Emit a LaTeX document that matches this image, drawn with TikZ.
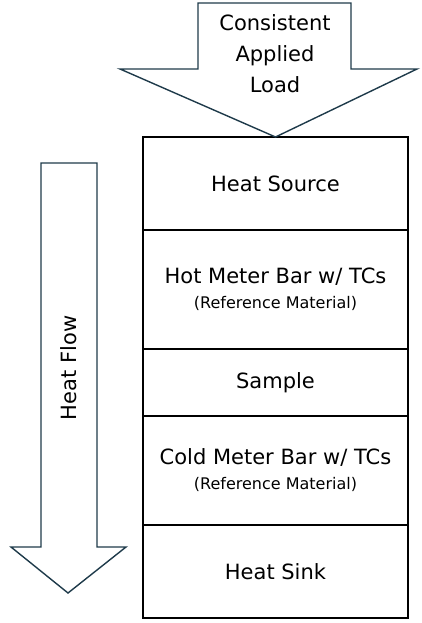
\documentclass[tikz,border=0pt]{standalone}
\usepackage{fontspec}
\setmainfont{DejaVu Sans}
\usetikzlibrary{positioning}

\definecolor{arrowline}{HTML}{1E3A4A}
\tikzset{layer/.style={draw,rectangle,line width=1.4pt,minimum width=265pt,outer sep=0pt,align=center,font=\fontsize{21}{25}\selectfont},}
\tikzset{bigarrow/.style={draw=arrowline,line width=1.4pt,line join=miter},}
\tikzset{arrowtext/.style={align=center,inner sep=0pt,font=\fontsize{21}{31}\selectfont},}
\newcommand{\refmat}{{\fontsize{16}{20}\selectfont (Reference Material)}}

\begin{document}
\begin{tikzpicture}[x=1pt,y=-1pt]
\useasboundingbox (0,0) rectangle (422,623);

%STACK
\node [layer,minimum height=93pt,anchor=north] (source) at (275.5,137) {Heat Source};
\node [layer,minimum height=119pt,below=0pt of source] (hotbar) {Hot Meter Bar w/ TCs\\\refmat};
\node [layer,minimum height=67pt,below=0pt of hotbar] (sample) {Sample};
\node [layer,minimum height=109pt,below=0pt of sample] (coldbar) {Cold Meter Bar w/ TCs\\\refmat};
\node [layer,minimum height=93pt,below=0pt of coldbar] (sink) {Heat Sink};

%LOAD ARROW
\draw[bigarrow] (198,3) -- (351,3) -- (351,69) -- (417,69) -- (source.north) -- (120,69) -- (198,69) -- cycle;
\node [arrowtext] (load) at (275,54) {Consistent\\Applied\\Load};

%HEAT FLOW ARROW
\draw[bigarrow] (41,163) -- (97,163) -- (97,547) -- (126,547) -- (68,593) -- (11,547) -- (41,547) -- cycle;
\node [arrowtext,rotate=90] (flow) at (69,368) {Heat Flow};

\end{tikzpicture}
\end{document}
